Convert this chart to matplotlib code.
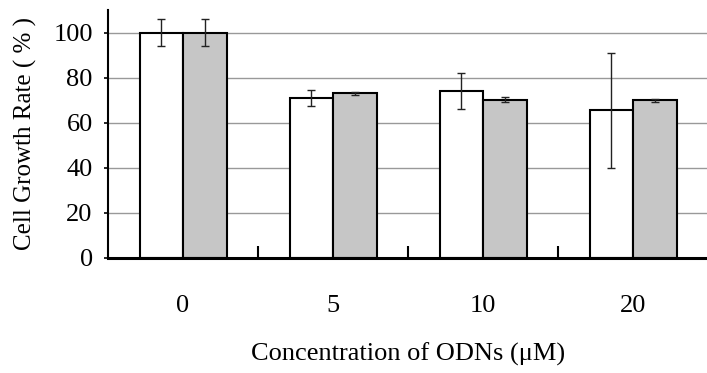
import matplotlib
matplotlib.use("Agg")
import matplotlib.pyplot as plt
import numpy as np

categories = ["0", "5", "10", "20"]
white_vals = [100, 71, 74, 65.5]
white_err = [6, 3.7, 8, 25.5]
gray_vals = [100, 73, 70.3, 69.9]
gray_err = [6, 0.5, 1, 0.5]

plt.rcParams['font.family'] = ['Liberation Serif', 'DejaVu Serif']

fig = plt.figure(figsize=(7.07, 3.73), dpi=100)
ax = fig.add_axes([108/707, 1-258/373, 600/707, 248/373])

x = np.arange(len(categories))
w = 0.29
ax.bar(x - w/2, white_vals, w, color='white', edgecolor='black', linewidth=1.5, zorder=2)
ax.bar(x + w/2, gray_vals, w, color='#c6c6c6', edgecolor='black', linewidth=1.5, zorder=2)
ax.errorbar(x - w/2, white_vals, yerr=white_err, fmt='none', ecolor='#222222',
            elinewidth=1.0, capsize=3, capthick=1.0, zorder=3)
ax.errorbar(x + w/2, gray_vals, yerr=gray_err, fmt='none', ecolor='#222222',
            elinewidth=1.0, capsize=3, capthick=1.0, zorder=3)

ax.set_xlim(-0.5, 3.5)
ax.set_ylim(0, 110)
ax.set_yticks([0, 20, 40, 60, 80, 100])
ax.yaxis.grid(True, color='#999999', linewidth=1.0, zorder=0)
ax.set_axisbelow(True)
ax.set_xticks(x)
ax.set_xticklabels(categories)
ax.set_xticks([0.5, 1.5, 2.5], minor=True)
ax.tick_params(axis='x', which='major', length=0, pad=27, labelsize=19)
ax.tick_params(axis='x', which='minor', direction='in', length=9, width=1.5)
ax.tick_params(axis='y', direction='out', length=3, width=1.2, labelsize=19, pad=8)

for s in ['top', 'right']:
    ax.spines[s].set_visible(False)
ax.spines['left'].set_linewidth(1.5)
ax.spines['bottom'].set_linewidth(2.2)

ax.set_ylabel("Cell Growth Rate ( % )", fontsize=18, labelpad=12)
ax.set_xlabel("Concentration of ODNs (\u03bcM)", fontsize=19, labelpad=18)

fig.savefig("out.png", dpi=100)
